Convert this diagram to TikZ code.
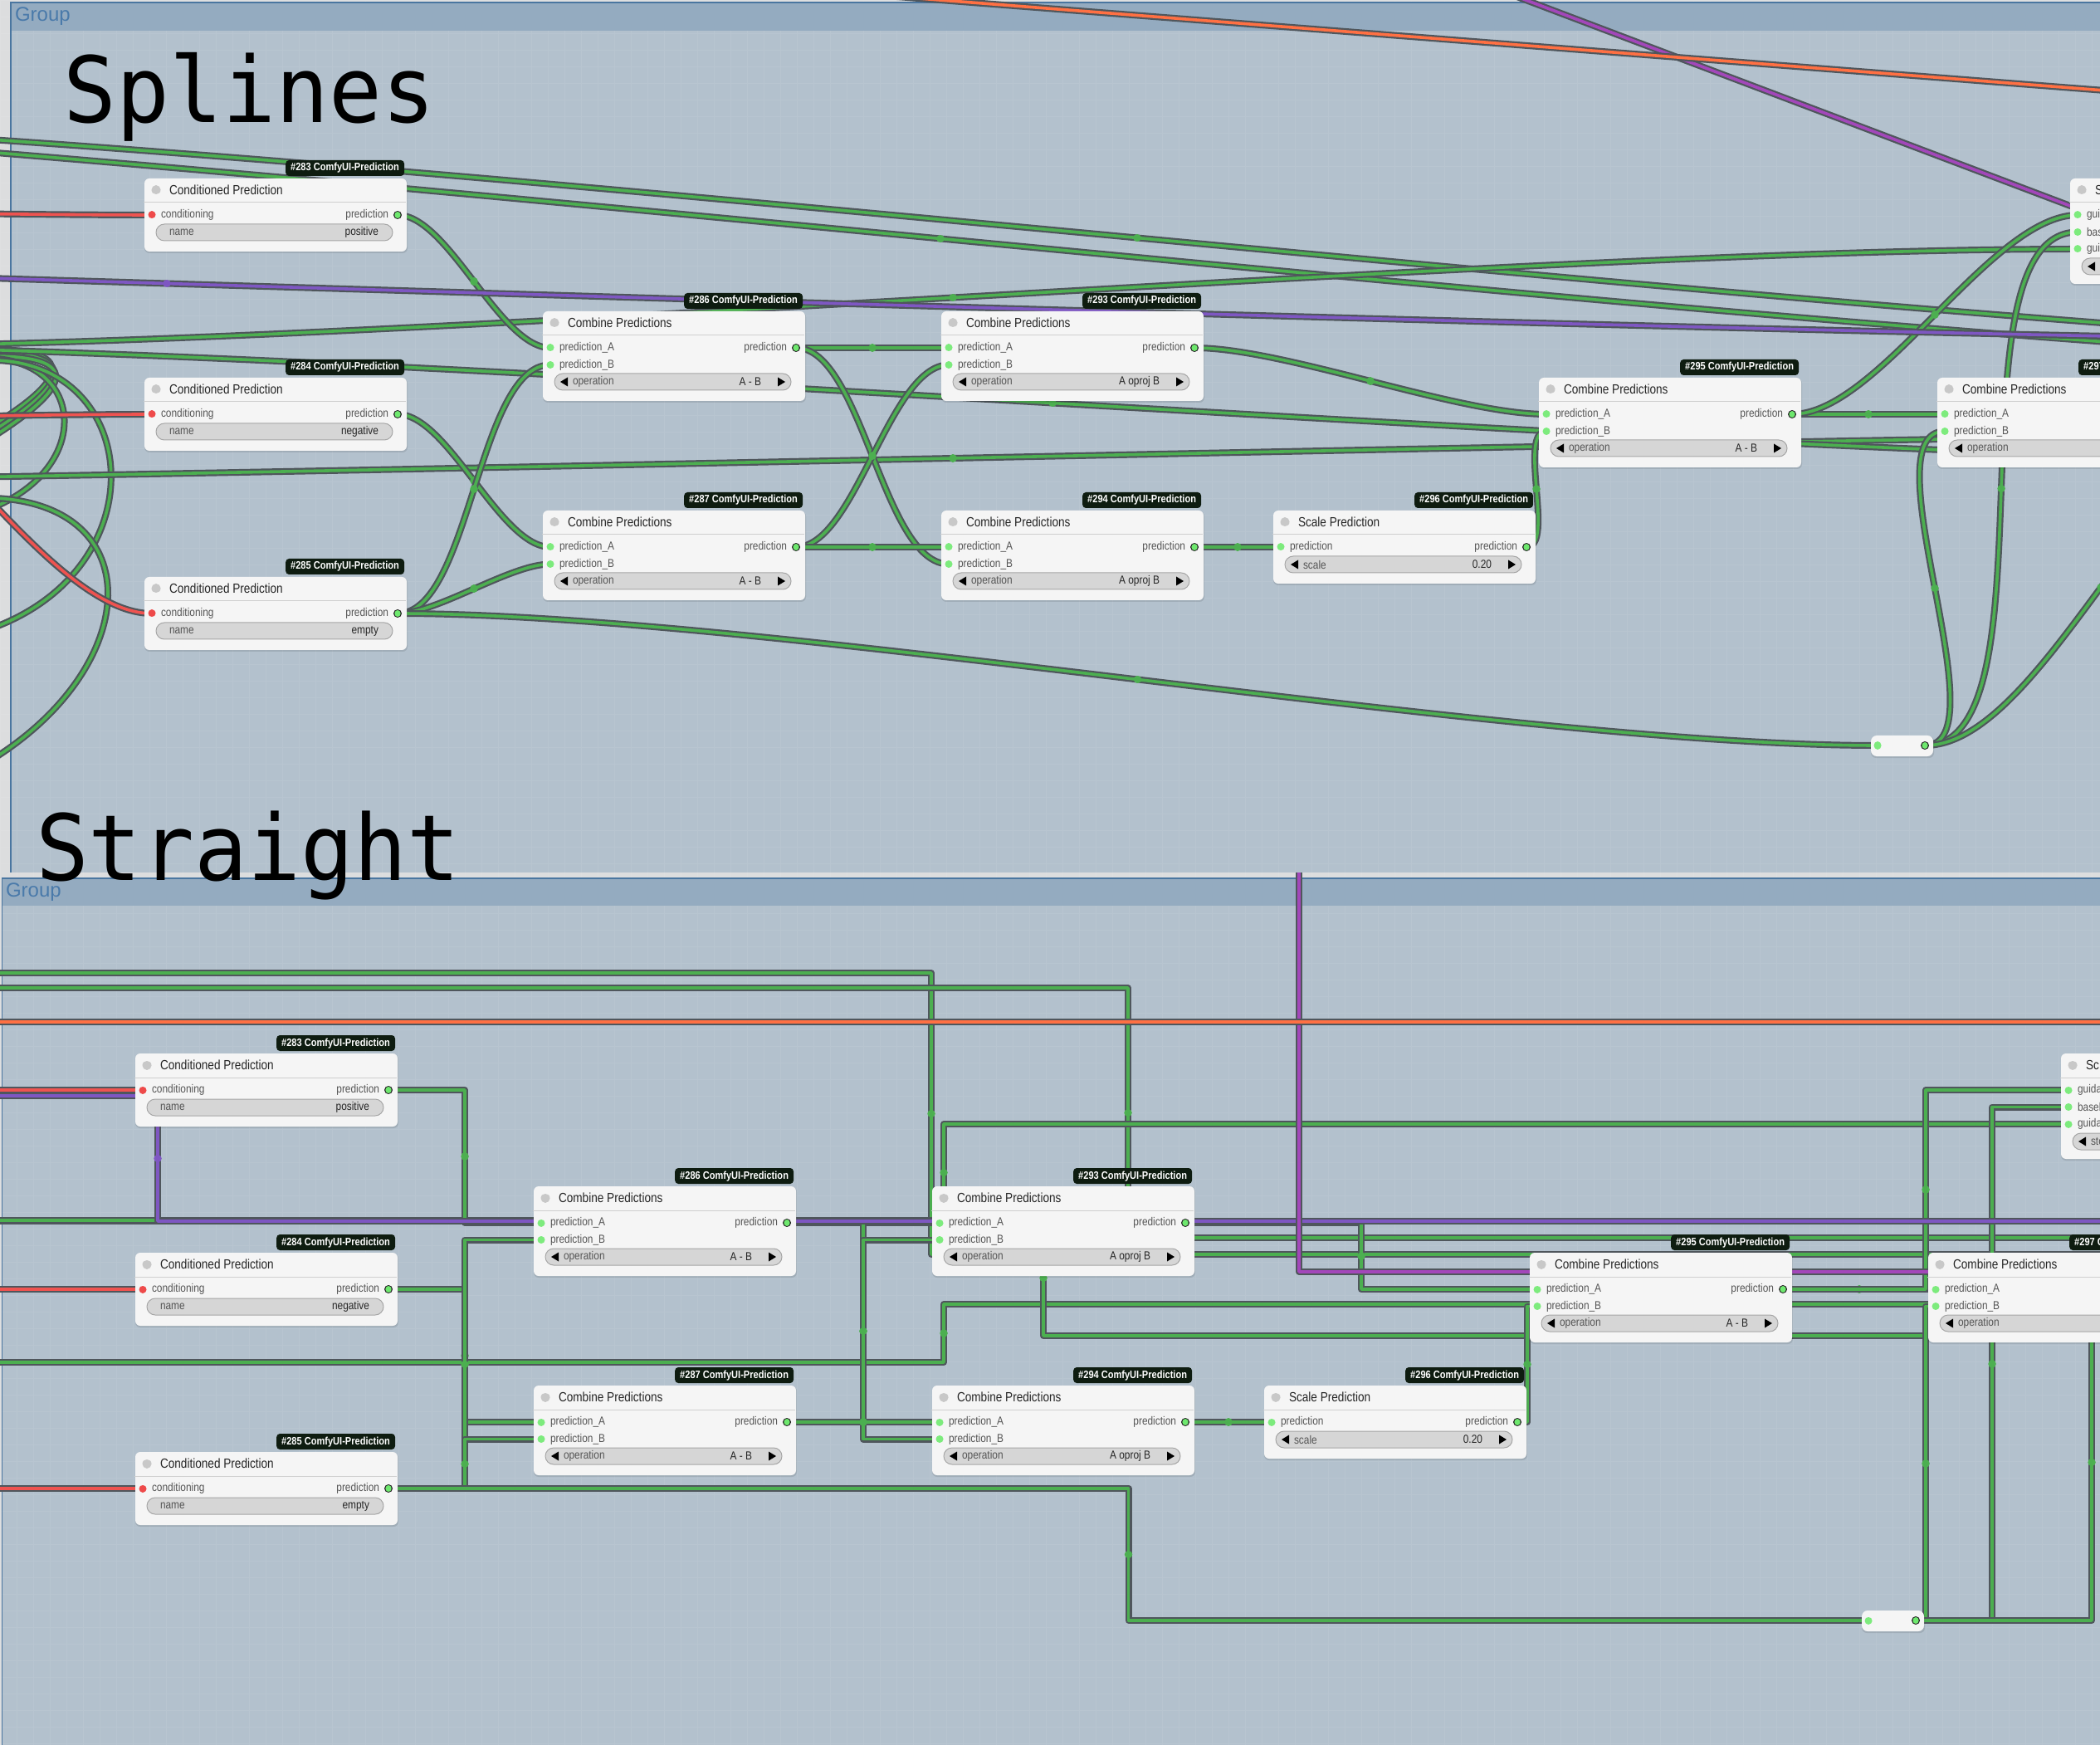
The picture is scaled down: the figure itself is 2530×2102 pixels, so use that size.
\documentclass[tikz,border=0pt]{standalone}
\usepackage{fontspec}
\setmainfont{Liberation Sans}
\newfontfamily\cf[FakeStretch=0.85]{Liberation Sans}
\newfontfamily\monof[FakeStretch=0.965]{DejaVu Sans Mono}
\usetikzlibrary{calc}
\definecolor{gw}{HTML}{4CAF50}
\definecolor{rw}{HTML}{EF5350}
\definecolor{pw}{HTML}{7E57C2}
\definecolor{mw}{HTML}{A347BA}
\definecolor{ow}{HTML}{FF7043}
\definecolor{wedge}{HTML}{4F565C}
\definecolor{canv}{HTML}{DCDDDE}
\definecolor{grp}{HTML}{B3C1CD}
\definecolor{hdr}{HTML}{94ABC0}
\definecolor{gtxt}{HTML}{4A7AAA}
\definecolor{gbord}{HTML}{4A76A0}
\definecolor{nbg}{HTML}{F5F5F5}
\definecolor{sepc}{HTML}{CFCFCF}
\definecolor{tdot}{HTML}{C8C8C8}
\definecolor{lblc}{HTML}{555555}
\definecolor{ttlc}{HTML}{262626}
\definecolor{wfill}{HTML}{D6D6D6}
\definecolor{wdraw}{HTML}{A6A6A6}
\definecolor{tagbg}{HTML}{0E1C10}
\definecolor{grin}{HTML}{7DEB7D}
\definecolor{redin}{HTML}{EE4A4A}
\definecolor{outdotc}{HTML}{6EE86E}
% one reference pixel = 0.2pt
\tikzset{
 wire/.style={draw=#1, line width=0.72pt, line join=round, preaction={draw=wedge, line width=1.6pt, line join=round}},
 wire/.default=gw,
 dotl/.style={line cap=round, line width=#1},
 nbody/.style={fill=nbg, rounded corners=1.2pt, minimum width=63.2pt, anchor=north west, inner sep=0pt},
 shad/.style={fill=black, opacity=0.10, rounded corners=1.2pt},
 ttl/.style={anchor=west, inner sep=0pt, text=ttlc, font=\cf\fontsize{3.2}{3.6}\selectfont},
 lbl/.style={anchor=west, inner sep=0pt, text=lblc, font=\cf\fontsize{2.8}{3.2}\selectfont},
 lblr/.style={lbl, anchor=east},
 wval/.style={anchor=east, inner sep=0pt, text=ttlc, font=\cf\fontsize{2.8}{3.2}\selectfont},
 tagn/.style={anchor=south east, fill=tagbg, rounded corners=0.8pt, text=white, inner xsep=1.2pt, inner ysep=0.7pt, text height=1.9pt, text depth=0.5pt, font=\cf\bfseries\fontsize{2.6}{3}\selectfont},
 wdg/.style={fill=wfill, draw=wdraw, line width=0.2pt, rounded corners=2pt},
 glbl/.style={anchor=west, inner sep=0pt, text=gtxt, font=\fontsize{4.8}{5.6}\selectfont},
 bigt/.style={anchor=base west, inner sep=0pt, text=black, font=\monof\fontsize{22}{24}\selectfont},
 gridl/.style={draw=white, opacity=0.08, line width=0.16pt},
}
% ---------- links (drawn in the untransformed scope) ----------
\newcommand\lkdot[3]{\draw[dotl=1.9pt, draw=#1] let \p1=(#2), \p2=(#3) in ({((\x1)+(\x2))/2},{((\y1)+(\y2))/2}) -- ++(0.01pt,0pt);}
\newcommand\splk[3][gw]{%
 \draw[wire=#1] let \p1=(#2), \p2=(#3), \n1={25*sqrt(((\x2-\x1)/100)^2+((\y2-\y1)/100)^2)} in
   (\p1) .. controls ({\x1+\n1},{\y1}) and ({\x2-\n1},{\y2}) .. (\p2);
 \lkdot{#1}{#2}{#3}}
\newcommand\stlk[3][gw]{%
 \draw[wire=#1] let \p1=(#2), \p2=(#3) in
   (\p1) -- ({((\x1)+(\x2))/2},{\y1}) -- ({((\x1)+(\x2))/2},{\y2}) -- (\p2);
 \lkdot{#1}{#2}{#3}}
% ---------- node parts ----------
\newcommand\frm[5]{%
 \fill[shad] ({#2+1},{#3+2}) rectangle ({#2+318},{#3+#4+3});
 \node[nbody,minimum height=#4*0.2pt] (#1) at (#2,#3) {};
 \draw[sepc,line width=0.2pt] ({#2},{#3+30}) -- ({#2+316},{#3+30});
 \draw[dotl=2.2pt, draw=tdot] ({#2+15},{#3+15}) -- ++(0.01pt,0pt);
 \node[ttl] (#1-t) at ({#2+30},{#3+15}) {#5};}
\newcommand\tg[4]{\node[tagn] (#1-g) at ({#2+315},{#3-1}) {#4};}
\newcommand\inp[6]{%
 \draw[dotl=1.8pt, draw=#6] ({#2+10},{#3+45+20.5*#4}) -- ++(0.01pt,0pt);
 \node[lbl] (#1-l#4) at ({#2+20},{#3+45+20.5*#4}) {#5};}
\newcommand\outp[4]{%
 \draw[dotl=2.0pt, draw=black!85] ({#2+306},{#3+45}) -- ++(0.01pt,0pt);
 \draw[dotl=1.45pt, draw=outdotc] ({#2+306},{#3+45}) -- ++(0.01pt,0pt);
 \node[lblr] (#1-r) at ({#2+296},{#3+45}) {#4};}
\newcommand\wdgt[7]{%
 \draw[wdg] ({#2+15},{#3+#4-10}) rectangle ({#2+300},{#3+#4+10});
 \ifnum#7=1\relax
  \fill[black] ({#2+22},{#3+#4}) -- ({#2+31},{#3+#4-5.5}) -- ({#2+31},{#3+#4+5.5}) -- cycle;
  \node[lbl] (#1-wl) at ({#2+36},{#3+#4}) {#5};
  \fill[black] ({#2+293},{#3+#4}) -- ({#2+284},{#3+#4-5.5}) -- ({#2+284},{#3+#4+5.5}) -- cycle;
  \node[wval] (#1-wv) at ({#2+265},{#3+#4}) {#6};
 \else
  \node[lbl] (#1-wl) at ({#2+30},{#3+#4}) {#5};
  \node[wval] (#1-wv) at ({#2+284},{#3+#4}) {#6};
 \fi}
\newcommand\condnode[5]{%
 \frm{#1}{#2}{#3}{88}{Conditioned Prediction}\tg{#1}{#2}{#3}{#4}%
 \inp{#1}{#2}{#3}{0}{conditioning}{redin}%
 \outp{#1}{#2}{#3}{prediction}%
 \wdgt{#1}{#2}{#3}{66}{name}{#5}{0}}
\newcommand\combnode[5]{%
 \frm{#1}{#2}{#3}{108}{Combine Predictions}\tg{#1}{#2}{#3}{#4}%
 \inp{#1}{#2}{#3}{0}{prediction\_A}{grin}%
 \inp{#1}{#2}{#3}{1}{prediction\_B}{grin}%
 \outp{#1}{#2}{#3}{prediction}%
 \wdgt{#1}{#2}{#3}{86}{operation}{#5}{1}}
\newcommand\scalenode[4]{%
 \frm{#1}{#2}{#3}{88}{Scale Prediction}\tg{#1}{#2}{#3}{#4}%
 \inp{#1}{#2}{#3}{0}{prediction}{grin}%
 \outp{#1}{#2}{#3}{prediction}%
 \wdgt{#1}{#2}{#3}{66}{scale}{0.20}{1}}
\newcommand\scrnode[3]{%
 \frm{#1}{#2}{#3}{127}{Sc}%
 \inp{#1}{#2}{#3}{0}{guida}{grin}%
 \inp{#1}{#2}{#3}{1}{basel}{grin}%
 \inp{#1}{#2}{#3}{2}{guida}{grin}%
 \wdgt{#1}{#2}{#3}{107}{sto}{}{1}}
\newcommand\rrnode[3]{%
 \fill[shad] ({#2+1},{#3+2}) rectangle ({#2+77},{#3+28});
 \node[nbody, minimum width=15pt, minimum height=5pt, rounded corners=1.4pt] (#1) at (#2,#3) {};
 \draw[dotl=1.8pt, draw=grin] ({#2+9},{#3+13}) -- ++(0.01pt,0pt);
 \draw[dotl=2.0pt, draw=black!85] ({#2+66},{#3+13}) -- ++(0.01pt,0pt);
 \draw[dotl=1.45pt, draw=outdotc] ({#2+66},{#3+13}) -- ++(0.01pt,0pt);}
% ---------- geometry (reference pixels of the upper panel) ----------
\newcommand\prt[3]{%
 \coordinate (#1-i0) at ({#2+10},{#3+45});
 \coordinate (#1-i1) at ({#2+10},{#3+65.5});
 \coordinate (#1-i2) at ({#2+10},{#3+86});
 \coordinate (#1-o) at ({#2+306},{#3+45});}
\newcommand\allports[1]{%
 \prt{#1283}{173}{214}\prt{#1284}{173}{454}\prt{#1285}{173}{694}%
 \prt{#1286}{653}{374}\prt{#1287}{653}{614}%
 \prt{#1293}{1133}{374}\prt{#1294}{1133}{614}%
 \prt{#1296}{1533}{614}\prt{#1295}{1853}{454}\prt{#1297}{2333}{454}%
 \prt{#1Sc}{2493}{214}%
 \coordinate (#1R-i) at (2262,898); \coordinate (#1R-o) at (2319,898);
 \coordinate (#1S1) at (-1247,118); \coordinate (#1T1) at (3513,457);
 \coordinate (#1S2) at (-780,136); \coordinate (#1T2) at (3520,437);
 \coordinate (#1S3) at (-207,417);
 \coordinate (#1S4) at (-1152,587); \coordinate (#1T4) at (3448,517);
 \coordinate (#1S5) at (-332,416); \coordinate (#1T5) at (2868,555);
 \coordinate (#1S6) at (-3139,266); \coordinate (#1T6) at (3541,417);
 \coordinate (#1S7) at (-400,254);
 \coordinate (#1S8) at (-400,506);
 \coordinate (#1S9) at (-250,420);
 \coordinate (#1T10) at (2743,517);
 \coordinate (#1mS) at (1576,-20); \coordinate (#1mT) at (2560,478);
 \coordinate (#1oS) at (-20,177); \coordinate (#1oT) at (2560,177);}
\newcommand\alllinks[1]{%
 \lk[rw]{#1S7}{#1283-i0}\lk[rw]{#1S8}{#1284-i0}\lk[rw]{#1S9}{#1285-i0}%
 \lk{#1S1}{#1T1}\lk{#1S2}{#1T2}\lk{#1S3}{#1Sc-i2}\lk{#1S4}{#1T4}\lk{#1S5}{#1T5}%
 \lk{#1283-o}{#1286-i0}\lk{#1284-o}{#1287-i0}%
 \lk{#1285-o}{#1286-i1}\lk{#1285-o}{#1287-i1}\lk{#1285-o}{#1R-i}%
 \lk{#1286-o}{#1293-i0}\lk{#1286-o}{#1294-i1}%
 \lk{#1287-o}{#1293-i1}\lk{#1287-o}{#1294-i0}%
 \lk{#1293-o}{#1295-i0}\lk{#1294-o}{#1296-i0}\lk{#1296-o}{#1295-i1}%
 \lk{#1295-o}{#1297-i0}\lk{#1295-o}{#1Sc-i0}%
 \lk{#1R-o}{#1Sc-i1}\lk{#1R-o}{#1297-i1}\lk{#1R-o}{#1T10}%
 \lk[pw]{#1S6}{#1T6}}
\newcommand\allboxes[1]{%
 \condnode{#1283}{173}{214}{\#283 ComfyUI-Prediction}{positive}%
 \condnode{#1284}{173}{454}{\#284 ComfyUI-Prediction}{negative}%
 \condnode{#1285}{173}{694}{\#285 ComfyUI-Prediction}{empty}%
 \combnode{#1286}{653}{374}{\#286 ComfyUI-Prediction}{A - B}%
 \combnode{#1287}{653}{614}{\#287 ComfyUI-Prediction}{A - B}%
 \combnode{#1293}{1133}{374}{\#293 ComfyUI-Prediction}{A oproj B}%
 \combnode{#1294}{1133}{614}{\#294 ComfyUI-Prediction}{A oproj B}%
 \scalenode{#1296}{1533}{614}{\#296 ComfyUI-Prediction}%
 \combnode{#1295}{1853}{454}{\#295 ComfyUI-Prediction}{A - B}%
 \combnode{#1297}{2333}{454}{\#297 ComfyUI-Prediction}{}%
 \scrnode{#1Sc}{2493}{214}%
 \rrnode{#1R}{2253}{885}}
\newcommand\toploops{%
 \coordinate (lpa1) at (-5,421); \coordinate (lpb1) at (-5,510);
 \coordinate (lpa2) at (-5,425); \coordinate (lpb2) at (-5,517);
 \coordinate (lpa3) at (-5,429); \coordinate (lpb3) at (-5,524);
 \coordinate (lpa4) at (-5,432); \coordinate (lpb4) at (-5,610);
 \coordinate (lpa5) at (-5,434); \coordinate (lpb5) at (-5,755);
 \coordinate (lpa6) at (-5,600); \coordinate (lpb6) at (-5,912);
 \draw[wire] (lpa1) .. controls (75,422) and (95,448) .. (lpb1);
 \draw[wire] (lpa2) .. controls (78,426) and (98,452) .. (lpb2);
 \draw[wire] (lpa3) .. controls (81,430) and (101,456) .. (lpb3);
 \draw[wire] (lpa4) .. controls (100,440) and (110,560) .. (lpb4);
 \draw[wire] (lpa5) .. controls (170,440) and (190,680) .. (lpb5);
 \draw[wire] (lpa6) .. controls (180,610) and (170,800) .. (lpb6);}
\begin{document}
\begin{tikzpicture}[x=0.2pt,y=-0.2pt]
\useasboundingbox (0,0) rectangle (2530,2102);
% ===== upper panel : splines =====
\begin{scope}
 \clip (0,0) rectangle (2530,1051);
 \fill[canv] (0,0) rectangle (2530,1051);
 \fill[grp] (13,3) rectangle (2540,1060);
 \draw[gridl] (0,0) grid[step=4pt] (2530,1051);
 \fill[hdr] (13,3) rectangle (2540,37);
 \draw[gbord,line width=0.24pt] (13,1060) -- (13,3) -- (2540,3);
 \node[glbl] (grpA) at (17,20) {Group};
 \allports{s}
 \coordinate (smo1) at (1600,-90); \coordinate (smo2) at (2600,288);
 \coordinate (soo1) at (900,-18); \coordinate (soo2) at (2600,114);
 \let\lk\splk
 \toploops
 \alllinks{s}
 \draw[wire=mw] (smo1) -- (smo2);
 \draw[wire=ow] (soo1) -- (soo2);
 \allboxes{s}
\end{scope}
% ===== lower panel : straight =====
\begin{scope}
 \clip (0,1051) rectangle (2530,2102);
 \fill[canv] (0,1051) rectangle (2530,2102);
 \fill[grp] (2.5,1058) rectangle (2540,2110);
 \draw[gridl] (0,1040) grid[step=4pt] (2530,2102);
 \fill[hdr] (2.5,1058) rectangle (2540,1091);
 \draw[gbord,line width=0.24pt] (2.5,2110) -- (2.5,1058) -- (2540,1058);
 \node[glbl] (grpB) at (6,1075) {Group};
 \begin{scope}[shift={(-11,1054)}]
  \allports{t}
 \end{scope}
 \let\lk\stlk
 \alllinks{t}
 \draw[wire=mw] (tmS) |- (tmT);
 \draw[wire=ow] (toS) -- (toT);
 \begin{scope}[shift={(-11,1054)}]
  \allboxes{t}
 \end{scope}
\end{scope}
% ===== annotations =====
\node[bigt] (splt) at (76,148) {Splines};
\node[bigt] (strt) at (42,1060) {Straight};
\end{tikzpicture}
\end{document}
